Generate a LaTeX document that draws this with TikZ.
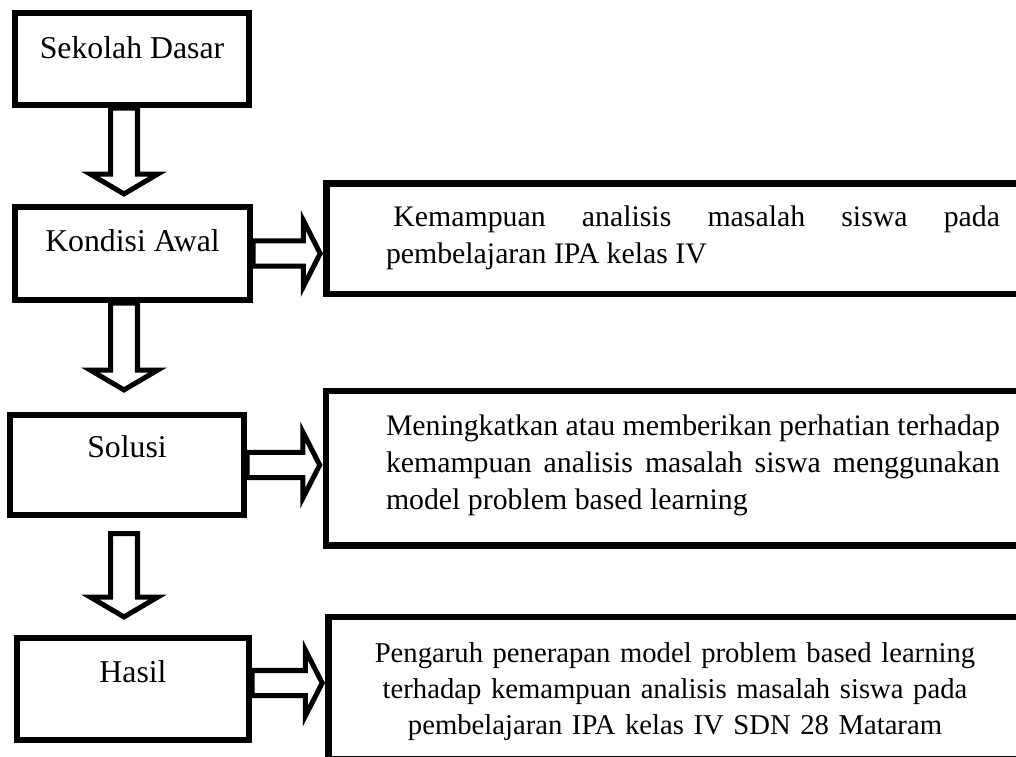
\documentclass[tikz,border=0pt]{standalone}
\usepackage{fontspec}
\setmainfont{Liberation Serif}
\usepackage{tikz}
\usetikzlibrary{positioning,calc}
\tikzstyle{leftbox} =[rectangle, draw=black, line width=4.4pt, text height=15pt,
                      align=center, font=\fontsize{22.6}{27}\selectfont]
\tikzstyle{rightbox}=[rectangle, draw=black, line width=4.4pt, inner ysep=0pt,
                      font=\fontsize{21.2}{26.3}\selectfont]
\tikzstyle{hollow}  =[draw=black, line width=3.56pt, line join=miter]

% block arrow pointing down: #1 top of shaft, #2 tip
\newcommand{\blockdown}[2]{%
  \draw[hollow] let \p1=#1, \p2=#2 in
    (\x1-9.6pt,\y1) -- (\x1-9.6pt,\y2+14pt) -- (\x1-23.8pt,\y2+14pt)
    -- (\x1,\y2) -- (\x1+23.8pt,\y2+14pt) -- (\x1+9.6pt,\y2+14pt)
    -- (\x1+9.6pt,\y1) -- cycle;}
% block arrow pointing right: #1 back of shaft, #2 tip
\newcommand{\blockright}[2]{%
  \draw[hollow] let \p1=#1, \p2=#2 in
    (\x1,\y1+8.9pt) -- (\x2-12pt,\y1+8.9pt) -- (\x2-12pt,\y1+23.5pt)
    -- (\x2,\y1) -- (\x2-12pt,\y1-23.5pt) -- (\x2-12pt,\y1-8.9pt)
    -- (\x1,\y1-8.9pt) -- cycle;}

\begin{document}
\begin{tikzpicture}

  \clip (0,0) rectangle (25.4,-18.9);

  % ── left column ────────────────────────────────────────────────────────────
  \node[leftbox, minimum width=5.85cm,  minimum height=2.3cm,   text depth=16.4pt] (sd) at (3.3,    -1.475)  {Sekolah Dasar};
  \node[leftbox, minimum width=5.875cm, minimum height=2.325cm, text depth=18.5pt] (ka) at (3.3125, -6.3375) {Kondisi Awal};
  \node[leftbox, minimum width=5.85cm,  minimum height=2.5cm,   text depth=26.3pt] (so) at (3.175,  -11.625) {Solusi};
  \node[leftbox, minimum width=5.8cm,   minimum height=2.55cm,  text depth=24.9pt] (hs) at (3.325,  -17.225) {Hasil};

  % ── right column ───────────────────────────────────────────────────────────
  \node[rightbox, text width=15.35cm, inner xsep=1.4875cm, minimum height=2.7625cm, align=justify]
    (rb1) at (17.325, -5.96875)
    {\hspace*{0.25em}Kemampuan analisis masalah siswa pada\linebreak
     pembelajaran IPA kelas IV\rule[-5.7pt]{0pt}{0pt}};
  \node[rightbox, text width=15.35cm, inner xsep=1.5cm, minimum height=3.8625cm, align=justify]
    (rb2) at (17.325, -11.70625)
    {Meningkatkan atau memberikan perhatian terhadap\linebreak
     kemampuan analisis masalah siswa menggunakan\linebreak
     model problem based learning\rule[-8.5pt]{0pt}{0pt}};
  \node[rightbox, text width=16cm, inner xsep=0.6625cm, minimum height=3.55cm, align=center,
        font=\fontsize{20.4}{25.6}\selectfont]
    (rb3) at (16.875, -17.2)
    {\rule{0pt}{19.5pt}Pengaruh penerapan model problem based learning\\
     terhadap kemampuan analisis masalah siswa pada\\
     pembelajaran IPA kelas IV SDN 28 Mataram};

  % ── flow ───────────────────────────────────────────────────────────────────
  \coordinate (ax) at (3.1, 0);
  \blockdown{(sd.south -| ax)}{($(ka.north -| ax)+(0,0.25)$)}
  \blockdown{(ka.south -| ax)}{($(so.north -| ax)+(0,0.55)$)}
  \blockdown{($(so.south -| ax)+(0,-0.3875)$)}{($(hs.north -| ax)+(0,0.45)$)}

  \blockright{(ka.east)}{($(rb1.west |- ka.east)+(-0.08,0)$)}
  \blockright{(so.east)}{($(rb2.west |- so.east)+(-0.08,0)$)}
  \blockright{($(hs.east)+(0,0.15)$)}{($(rb3.west |- hs.east)+(-0.08,0.15)$)}

\end{tikzpicture}
\end{document}
